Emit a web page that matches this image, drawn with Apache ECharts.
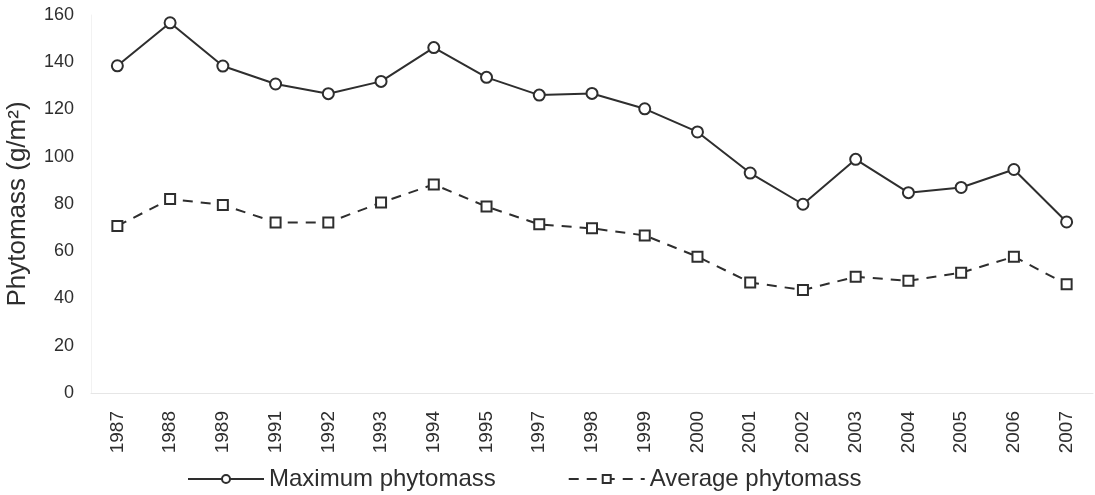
<!DOCTYPE html>
<html>
<head>
<meta charset="utf-8">
<script src="https://cdn.jsdelivr.net/npm/echarts@6/dist/echarts.min.js"></script>
<style>
  html, body { margin: 0; padding: 0; background: #fff; }
  #chart { width: 1095px; height: 495px; }
</style>
</head>
<body>
<div id="chart"></div>
<script>
const years = ['1987', '1988', '1989', '1991', '1992', '1993', '1994', '1995', '1997', '1998',
  '1999', '2000', '2001', '2002', '2003', '2004', '2005', '2006', '2007']
const maxPhytomass = [138.5, 156.7, 138.4, 130.8, 126.7, 131.9, 146.2, 133.6, 126.1, 126.8,
  120.3, 110.5, 93.1, 79.9, 98.9, 84.8, 87.0, 94.6, 72.4]
const avgPhytomass = [70.7, 82.1, 79.6, 72.2, 72.2, 80.6, 88.3, 78.9, 71.4, 69.7,
  66.7, 57.7, 46.8, 43.6, 49.2, 47.5, 50.9, 57.7, 46.0]

const ink = '#2e2e2e'
const font = 'Liberation Sans, Arial, sans-serif'

const chart = echarts.init(document.getElementById('chart'))
chart.setOption({
  backgroundColor: '#fff',
  animation: false,
  textStyle: { fontFamily: font },
  grid: { left: 91, right: 2, top: 15, bottom: 102, outerBoundsMode: 'none' },
  legend: {
    top: 462,
    left: 182,
    itemGap: 72,
    itemWidth: 76,
    itemHeight: 10,
    textStyle: { fontSize: 24, color: ink, fontFamily: font },
    data: ['Maximum phytomass', 'Average phytomass'],
  },
  xAxis: {
    type: 'category',
    data: years,
    boundaryGap: true,
    axisLine: { lineStyle: { color: '#e6e6e6', width: 1 } },
    axisTick: { show: false },
    axisLabel: { rotate: 90, fontSize: 19, color: ink, margin: 18, fontFamily: font },
  },
  yAxis: {
    type: 'value',
    min: 0,
    max: 160,
    interval: 20,
    name: 'Phytomass (g/m²)',
    nameLocation: 'middle',
    nameGap: 60,
    nameTextStyle: { fontSize: 26, color: ink, fontFamily: font },
    axisLine: { show: true, lineStyle: { color: '#f2f2f2' } },
    axisTick: { show: false },
    splitLine: { show: false },
    axisLabel: { fontSize: 18, color: ink, margin: 17, fontFamily: font },
  },
  series: [
    {
      name: 'Maximum phytomass',
      type: 'line',
      data: maxPhytomass,
      symbol: 'circle',
      symbolSize: 11,
      lineStyle: { color: ink, width: 2 },
      itemStyle: { color: '#fff', borderColor: ink, borderWidth: 2 },
    },
    {
      name: 'Average phytomass',
      type: 'line',
      data: avgPhytomass,
      symbol: 'rect',
      symbolSize: 10,
      lineStyle: { color: ink, width: 2, type: [10, 8] },
      itemStyle: { color: '#fff', borderColor: ink, borderWidth: 2 },
    },
  ],
})
</script>
</body>
</html>
